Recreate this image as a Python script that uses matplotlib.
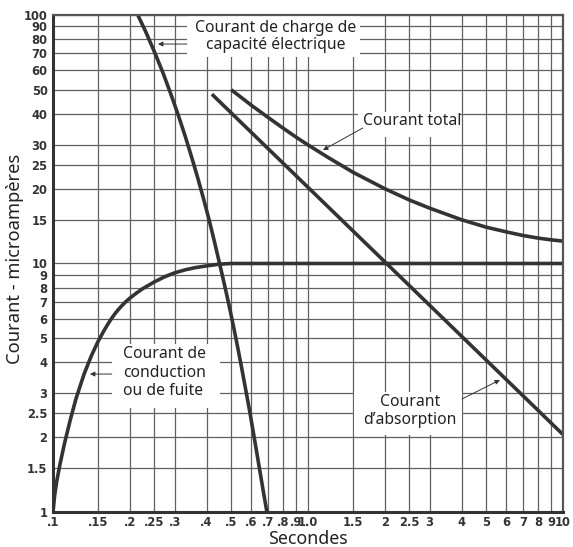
import matplotlib
matplotlib.use("Agg")
import matplotlib.pyplot as plt
from matplotlib.patches import Rectangle

# values (log-log, seconds vs microamperes)
charge_t = [0.215, 0.23, 0.25, 0.27, 0.29, 0.31, 0.33, 0.35, 0.37, 0.39, 0.41, 0.43,
            0.45, 0.47, 0.49, 0.51, 0.53, 0.55, 0.57, 0.59, 0.61, 0.63, 0.65, 0.67, 0.69]
charge_i = [100, 86.5, 71, 58.5, 48, 39.5, 32.5, 26.7, 22, 18.1, 14.9, 12.2,
            10.0, 8.25, 6.8, 5.6, 4.6, 3.78, 3.1, 2.56, 2.1, 1.73, 1.43, 1.19, 1.0]

cond_t = [0.1, 0.1016, 0.1035, 0.1064, 0.1109, 0.1167, 0.123, 0.1324, 0.1413, 0.15,
          0.1585, 0.1641, 0.1698, 0.1768, 0.1841, 0.1919, 0.2, 0.2113, 0.2239, 0.2512,
          0.2754, 0.3, 0.3311, 0.3631, 0.4, 0.4467, 0.5, 10]
cond_i = [1, 1.175, 1.334, 1.549, 1.884, 2.333, 2.851, 3.589, 4.246, 4.842,
          5.37, 5.70, 6.02, 6.365, 6.68, 6.98, 7.25, 7.57, 7.9, 8.46,
          8.86, 9.17, 9.44, 9.63, 9.78, 9.93, 10, 10]

absorp_t = [0.42, 10]
absorp_i = [48, 2.05]

total_t = [0.5, 0.55, 0.6, 0.7, 0.8, 0.9, 1.0, 1.2, 1.5, 2, 2.5, 3, 4, 5, 6, 7, 8, 9, 10]
total_i = [50, 46.4, 43.3, 38.6, 35, 32.2, 30, 26.7, 23.3, 20, 18, 16.7, 15, 14, 13.4,
           12.95, 12.65, 12.45, 12.3]

x_ticks = [0.1, 0.15, 0.2, 0.25, 0.3, 0.4, 0.5, 0.6, 0.7, 0.8, 0.9, 1.0,
           1.5, 2, 2.5, 3, 4, 5, 6, 7, 8, 9, 10]
x_labels = [".1", ".15", ".2", ".25", ".3", ".4", ".5", ".6", ".7", ".8", ".9", "1.0",
            "1.5", "2", "2.5", "3", "4", "5", "6", "7", "8", "9", "10"]
y_ticks = [1, 1.5, 2, 2.5, 3, 4, 5, 6, 7, 8, 9, 10, 15, 20, 25, 30, 40, 50, 60, 70, 80, 90, 100]
y_labels = ["1", "1.5", "2", "2.5", "3", "4", "5", "6", "7", "8", "9", "10", "15", "20",
            "25", "30", "40", "50", "60", "70", "80", "90", "100"]

line_col = "#333333"
grid_col = "#606060"
label_font = ["Noto Sans", "DejaVu Sans"]
tick_font = ["Liberation Sans Narrow", "DejaVu Sans"]

fig = plt.figure(figsize=(5.73, 5.47), dpi=100)
ax = fig.add_axes([0.0925, 0.064, 0.890, 0.9086])
ax.set_xscale("log")
ax.set_yscale("log")
ax.set_xlim(0.1, 10)
ax.set_ylim(1, 100)

ax.set_xticks(x_ticks)
ax.set_xticklabels(x_labels)
ax.set_yticks(y_ticks)
ax.set_yticklabels(y_labels)
ax.minorticks_off()
ax.tick_params(axis="y", length=0, pad=4)
ax.tick_params(axis="x", length=0, pad=3)
for lab in ax.get_xticklabels() + ax.get_yticklabels():
    lab.set_family(tick_font)
    lab.set_fontweight("bold")
    lab.set_fontsize(8.3)
    lab.set_color("#333333")

ax.set_axisbelow(True)
ax.grid(True, color=grid_col, lw=0.9)

for side in ["left", "bottom"]:
    ax.spines[side].set_linewidth(2.2)
    ax.spines[side].set_color(line_col)
for side in ["top", "right"]:
    ax.spines[side].set_linewidth(1.6)
    ax.spines[side].set_color("#555555")

# white boxes behind the labels (axes fraction)
boxes = [(0.263, 0.915, 0.339, 0.085),
         (0.598, 0.7545, 0.200, 0.0505),
         (0.1157, 0.209, 0.212, 0.129),
         (0.590, 0.155, 0.212, 0.0865)]
for bx, by, bw, bh in boxes:
    ax.add_patch(Rectangle((bx, by), bw, bh, transform=ax.transAxes,
                           facecolor="white", edgecolor="none", zorder=1))

for t, i in [(charge_t, charge_i), (cond_t, cond_i), (absorp_t, absorp_i), (total_t, total_i)]:
    ax.plot(t, i, color=line_col, lw=2.6, zorder=2, solid_capstyle="butt",
            solid_joinstyle="round")

txt = dict(family=label_font, fontsize=11.3, color="#222222", zorder=3)
ax.text(0.749, 81.9, "Courant de charge de\ncapacité électrique", ha="center", va="center",
        linespacing=1.05, **txt)
ax.text(1.64, 37.4, "Courant total", ha="left", va="center", **txt)
ax.text(0.188, 3.63, "Courant de\nconduction\nou de fuite", ha="left", va="center",
        linespacing=1.2, **txt)
ax.text(2.51, 2.55, "Courant\nd\u2019absorption", ha="center", va="center",
        linespacing=1.15, **txt)

arrow = dict(arrowstyle="-|>", lw=0.7, color="#333333", mutation_scale=7, shrinkA=0, shrinkB=0)
ax.annotate("", xy=(0.258, 76.4), xytext=(0.335, 76.4), arrowprops=arrow, zorder=3)
ax.annotate("", xy=(1.145, 28.6), xytext=(1.64, 35.1), arrowprops=arrow, zorder=3)
ax.annotate("", xy=(0.1396, 3.59), xytext=(0.170, 3.59), arrowprops=arrow, zorder=3)
ax.annotate("", xy=(5.66, 3.40), xytext=(4.02, 2.85), arrowprops=arrow, zorder=3)

ax.set_xlabel("Secondes", family=label_font, fontsize=12.8, color="#222222")
ax.set_ylabel("Courant - microampères", family=label_font, fontsize=13.2, color="#222222")
ax.xaxis.set_label_coords(0.5, -0.037)
ax.yaxis.set_label_coords(-0.057, 0.509)

fig.savefig("out.png", dpi=100)
